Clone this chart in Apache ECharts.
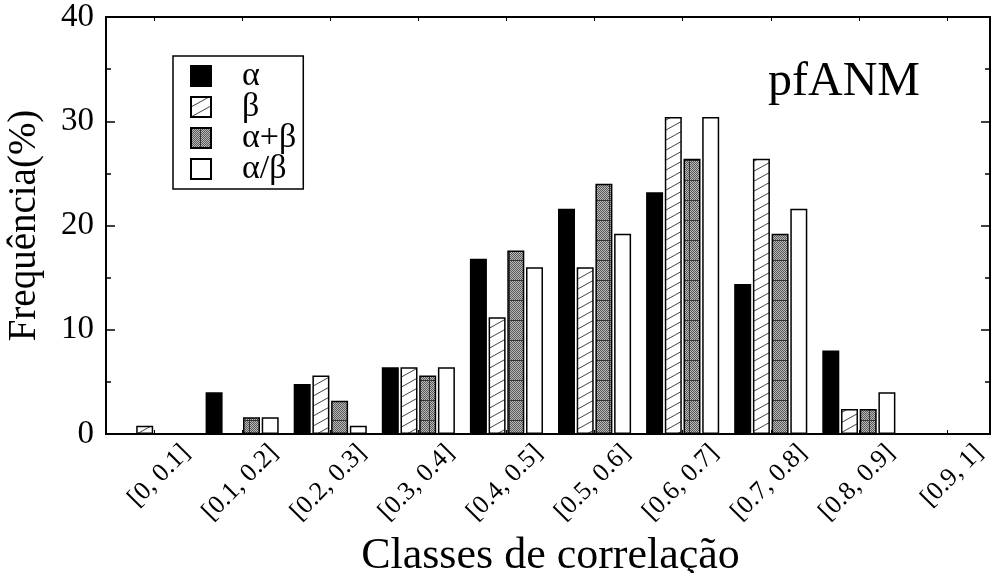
<!DOCTYPE html>
<html>
<head>
<meta charset="utf-8">
<script src="https://cdn.jsdelivr.net/npm/echarts@6/dist/echarts.min.js"></script>
<style>
  html, body { margin: 0; padding: 0; background: #fff; }
  #chart { width: 991px; height: 573px; }
</style>
</head>
<body>
<div id="chart"></div>
<script>
// Correlation classes (x categories)
const classes = ['[0, 0.1]', '[0.1, 0.2]', '[0.2, 0.3]', '[0.3, 0.4]', '[0.4, 0.5]',
                 '[0.5, 0.6]', '[0.6, 0.7]', '[0.7, 0.8]', '[0.8, 0.9]', '[0.9, 1]'];
// Frequency (%) per structural class
const alpha         = [0, 4.0, 4.8, 6.4, 16.8, 21.6, 23.2, 14.4, 8.0, 0];
const beta          = [0.8, 0, 5.6, 6.4, 11.2, 16.0, 30.4, 26.4, 2.4, 0];
const alphaPlusBeta = [0, 1.6, 3.2, 5.6, 17.6, 24.0, 26.4, 19.2, 2.4, 0];
const alphaOverBeta = [0, 1.6, 0.8, 6.4, 16.0, 19.2, 30.4, 21.6, 4.0, 0];
const seriesNames   = ['α', 'β', 'α+β', 'α/β'];
const yMin = 0, yMax = 40, yStep = 10;

const FONT = 'Liberation Serif';

// Diagonal hatch fill
function hatchPattern() {
  const c = document.createElement('canvas');
  c.width = 18; c.height = 10;
  const g = c.getContext('2d');
  g.fillStyle = '#fff';
  g.fillRect(0, 0, 18, 10);
  g.strokeStyle = '#444';
  g.lineWidth = 1;
  for (const dy of [-10, 0, 10]) {
    g.beginPath();
    g.moveTo(0, 10 + dy);
    g.lineTo(18, 0 + dy);
    g.stroke();
  }
  return c;
}

// Stippled gray fill with a coarse grid
function gridPattern() {
  const c = document.createElement('canvas');
  c.width = 20; c.height = 20;
  const g = c.getContext('2d');
  for (let y = 0; y < 20; y++) {
    for (let x = 0; x < 20; x++) {
      g.fillStyle = ((x + y) % 2 === 0) ? '#5a5a5a' : '#b8b8b8';
      g.fillRect(x, y, 1, 1);
    }
  }
  g.fillStyle = '#333';
  g.fillRect(0, 0, 20, 1);
  g.fillRect(9, 0, 1, 20);
  return c;
}

const fills = [
  '#000',
  { image: hatchPattern(), repeat: 'repeat' },
  { image: gridPattern(), repeat: 'repeat' },
  '#fff'
];
const values = [alpha, beta, alphaPlusBeta, alphaOverBeta];

const chart = echarts.init(document.getElementById('chart'), null, { renderer: 'canvas' });

const series = seriesNames.map((name, i) => ({
  name: name,
  type: 'bar',
  xAxisIndex: 0,
  yAxisIndex: 2,
  data: values[i],
  barWidth: 17,
  barGap: '10%',
  itemStyle: { color: fills[i], borderColor: '#000', borderWidth: 1.5 },
  emphasis: { disabled: true },
  animation: false
}));

chart.setOption({
  animation: false,
  backgroundColor: '#fff',
  grid: [
    // frame with the value axes
    { left: 106, right: 1, top: 17, bottom: 139, outerBoundsMode: 'none', containLabel: false,
      show: true, borderColor: '#000', borderWidth: 2, backgroundColor: 'transparent' },
    // bars
    { left: 110, width: 881, top: 17, bottom: 139, outerBoundsMode: 'none', containLabel: false },
    // slanted class labels
    { left: 142, width: 881, top: 17, bottom: 139, outerBoundsMode: 'none', containLabel: false }
  ],
  legend: {
    orient: 'vertical',
    left: 173,
    top: 56,
    padding: [3, 7, 3, 17],
    itemGap: -3,
    itemWidth: 20,
    itemHeight: 20,
    borderColor: '#000',
    borderWidth: 1.5,
    icon: 'rect',
    data: seriesNames,
    textStyle: { fontFamily: FONT, fontSize: 34, color: '#000', padding: [0, 0, 0, 26] },
    selectedMode: false
  },
  graphic: [{
    type: 'text',
    left: 768,
    top: 58,
    style: { text: 'pfANM', fontFamily: FONT, fontSize: 48, fill: '#000' }
  }],
  xAxis: [
    {
      type: 'category', gridIndex: 1, position: 'bottom',
      data: classes,
      axisLine: { show: true, lineStyle: { color: '#000', width: 2 } },
      axisTick: { show: true, inside: true, length: 4, alignWithLabel: true, lineStyle: { color: '#000' } },
      axisLabel: { show: false },
      name: 'Classes de correlação',
      nameLocation: 'middle',
      nameGap: 100,
      nameTextStyle: { fontFamily: FONT, fontSize: 44, color: '#000' }
    },
    {
      type: 'category', gridIndex: 1, position: 'top',
      data: classes,
      axisLine: { show: false },
      axisTick: { show: true, inside: true, length: 4, alignWithLabel: true, lineStyle: { color: '#000' } },
      axisLabel: { show: false }
    },
    {
      type: 'value', gridIndex: 0, show: false, min: 0, max: 1
    },
    {
      type: 'category', gridIndex: 2, position: 'bottom',
      data: classes,
      axisLine: { show: false },
      axisTick: { show: false },
      axisLabel: { rotate: 45, margin: 15, fontFamily: FONT, fontSize: 26, color: '#000' }
    }
  ],
  yAxis: [
    {
      type: 'value', gridIndex: 0, position: 'left',
      min: yMin, max: yMax, interval: yStep,
      axisLine: { show: true, lineStyle: { color: '#000', width: 2 } },
      axisTick: { show: true, inside: true, length: 9, lineStyle: { color: '#000', width: 1.5 } },
      minorTick: { show: true, splitNumber: 2, length: 5, lineStyle: { color: '#000', width: 1.5 } },
      splitLine: { show: false },
      axisLabel: { margin: 12, fontFamily: FONT, fontSize: 33, color: '#000' },
      name: 'Frequência(%)',
      nameLocation: 'middle',
      nameGap: 62,
      nameRotate: 90,
      nameTextStyle: { fontFamily: FONT, fontSize: 39, color: '#000' }
    },
    {
      type: 'value', gridIndex: 0, position: 'right',
      min: yMin, max: yMax, interval: yStep,
      axisLine: { show: true, lineStyle: { color: '#000', width: 2 } },
      axisTick: { show: true, inside: true, length: 9, lineStyle: { color: '#000', width: 1.5 } },
      minorTick: { show: true, splitNumber: 2, length: 5, lineStyle: { color: '#000', width: 1.5 } },
      splitLine: { show: false },
      axisLabel: { show: false }
    },
    {
      type: 'value', gridIndex: 1, show: false,
      min: yMin, max: yMax, interval: yStep
    },
    {
      type: 'value', gridIndex: 2, show: false,
      min: yMin, max: yMax, interval: yStep
    }
  ],
  series: series
});
</script>
</body>
</html>
